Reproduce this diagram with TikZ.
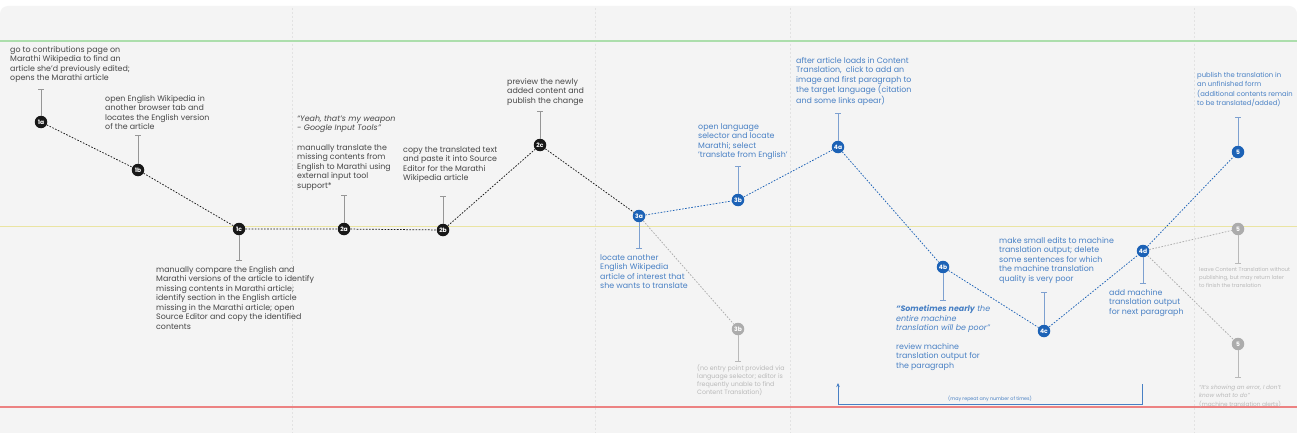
\documentclass[tikz,border=0pt]{standalone}
\usepackage{fontspec}
\setmainfont{Poppins}
\usetikzlibrary{arrows.meta,positioning}
\definecolor{panelbg}{RGB}{244,244,244}
\definecolor{inkblack}{RGB}{24,24,24}
\definecolor{txtdark}{RGB}{70,70,70}
\definecolor{stemgray}{RGB}{150,150,150}
\definecolor{ctblue}{RGB}{28,98,182}
\definecolor{txtblue}{RGB}{72,128,196}
\definecolor{stemblue}{RGB}{125,160,208}
\definecolor{fadegray}{RGB}{172,172,172}
\definecolor{txtgray}{RGB}{185,185,185}
\definecolor{lanegreen}{RGB}{172,222,172}
\definecolor{laneyellow}{RGB}{234,228,162}
\definecolor{lanered}{RGB}{236,130,130}
\definecolor{colsep}{RGB}{226,226,226}
\tikzset{
  % numbered step circles
  stepdot/.style={circle, fill=#1, inner sep=0pt, minimum size=12.5pt,
    text=white, font=\fontsize{6}{6}\selectfont\bfseries},
  % dotted journey paths
  trail/.style={draw=#1, line width=0.75pt, dash pattern=on 1.6pt off 1.5pt},
  % stems from step to its note
  stem/.style={draw=#1, line width=0.7pt, -{Bar[width=6pt,line width=0.7pt]}},
  % notes
  note/.style={anchor=north west, inner sep=0pt, align=left,
    font=\fontsize{7.9}{9.5}\selectfont, text=txtdark},
  noteblue/.style={note, text=txtblue},
  notegray/.style={note, text=txtgray, font=\fontsize{6.3}{8.3}\selectfont},
}
\begin{document}
\begin{tikzpicture}[x=1pt,y=-1pt]
  \clip (0,0) rectangle (1297,433);
  \fill[white] (0,0) rectangle (1297,433);
  \fill[panelbg, rounded corners=8pt] (0,6) rectangle (1297,445);

  % column separators
  \foreach \cx in {292,595,790,1194}
    \draw[colsep, line width=0.6pt, dash pattern=on 2pt off 2pt] (\cx,8) -- (\cx,433);

  % lanes
  \fill[lanegreen] (0,40.5) rectangle (1297,41.6);
  \fill[laneyellow] (0,225.5) rectangle (1297,226.6);
  \fill[lanered] (0,406.4) rectangle (1297,407.7);

  % steps
  \node[stepdot=inkblack] (n1a) at (41,122) {1a};
  \node[stepdot=inkblack] (n1b) at (138,170) {1b};
  \node[stepdot=inkblack] (n1c) at (239,229) {1c};
  \node[stepdot=inkblack] (n2a) at (344,229) {2a};
  \node[stepdot=inkblack] (n2b) at (443,230) {2b};
  \node[stepdot=inkblack] (n2c) at (540,145) {2c};
  \node[stepdot=ctblue] (n3a) at (639,216) {3a};
  \node[stepdot=ctblue] (n3b) at (738,200) {3b};
  \node[stepdot=fadegray] (n3bx) at (738,329) {3b};
  \node[stepdot=ctblue] (n4a) at (838,147) {4a};
  \node[stepdot=ctblue] (n4b) at (943,267) {4b};
  \node[stepdot=ctblue] (n4c) at (1044,331) {4c};
  \node[stepdot=ctblue] (n4d) at (1143,251) {4d};
  \node[stepdot=ctblue] (n5) at (1238,152) {5};
  \node[stepdot=fadegray] (n5x) at (1238,229) {5};
  \node[stepdot=fadegray] (n5y) at (1238,344) {5};

  % paths
  \draw[trail=inkblack] (n1a) -- (n1b) -- (n1c) -- (n2a) -- (n2b) -- (n2c) -- (n3a);
  \draw[trail=ctblue] (n3a) -- (n3b) -- (n4a) -- (n4b) -- (n4c) -- (n4d) -- (n5);
  \draw[trail=fadegray] (n3a) -- (n3bx);
  \draw[trail=fadegray] (n4d) -- (n5x);
  \draw[trail=fadegray] (n4d) -- (n5y);

  % stem ends
  \coordinate (s1a) at (41,89);
  \coordinate (s1b) at (138,135);
  \coordinate (s1c) at (239,261);
  \coordinate (s2a) at (344,195);
  \coordinate (s2b) at (443,196);
  \coordinate (s2c) at (540,111);
  \coordinate (s3a) at (639,249);
  \coordinate (s3b) at (738,166);
  \coordinate (s3bx) at (738,362);
  \coordinate (s4a) at (838,113);
  \coordinate (s4b) at (943,301);
  \coordinate (s4c) at (1044,292);
  \coordinate (s4d) at (1143,284);
  \coordinate (s5) at (1238,117);
  \coordinate (s5x) at (1238,264);
  \coordinate (s5y) at (1238,378);

  \foreach \s in {1a,1b,1c,2a,2b,2c}
    \draw[stem=stemgray] (n\s) -- (s\s);
  \foreach \s in {3a,3b,4a,4b,4c,4d,5}
    \draw[stem=stemblue] (n\s) -- (s\s);
  \foreach \s in {3bx,5x,5y}
    \draw[stem=txtgray] (n\s) -- (s\s);

  % notes
  \node[note] (t1a) at (10,46) {go to contributions page on\\Marathi Wikipedia to find an\\article she'd previously edited;\\opens the Marathi article};
  \node[note] (t1b) at (105,95) {open English Wikipedia in\\another browser tab and\\locates the English version\\of the article};
  \node[note] (t1c) at (156,266) {manually compare the English and\\Marathi versions of the article to identify\\missing contents in Marathi article;\\identify section in the English article\\missing in the Marathi article; open\\Source Editor and copy the identified\\contents};
  \node[note, font=\fontsize{7.9}{9.5}\selectfont\itshape] (q2a) at (297,115) {“Yeah, that's my weapon\\- Google Input Tools”};
  \node[note] (t2a) at (297,144) {manually translate the\\missing contents from\\English to Marathi using\\external input tool\\support*};
  \node[note] (t2b) at (403,146) {copy the translated text\\and paste it into Source\\Editor for the Marathi\\Wikipedia article};
  \node[note] (t2c) at (507,78) {preview the newly\\added content and\\publish the change};
  \node[noteblue] (t3a) at (600,254) {locate another\\English Wikipedia\\article of interest that\\she wants to translate};
  \node[noteblue] (t3b) at (698,123) {open language\\selector and locate\\Marathi; select\\'translate from English'};
  \node[notegray] (t3bx) at (697,364) {(no entry point provided via\\language selector; editor is\\frequently unable to find\\Content Translation)};
  \node[noteblue] (t4a) at (796,57) {after article loads in Content\\Translation,\ \ click to add an\\image and first paragraph to\\the target language (citation\\and some links apear)};
  \node[noteblue, font=\fontsize{7.9}{9.5}\selectfont\itshape] (q4b) at (896,305) {{\bfseries “Sometimes nearly} the\\entire machine\\translation will be poor”};
  \node[noteblue] (t4b) at (896,343) {review machine\\translation output for\\the paragraph};
  \node[noteblue] (t4c) at (999,237) {make small edits to machine\\translation output; delete\\some sentences for which\\the machine translation\\quality is very poor};
  \node[noteblue] (t4d) at (1109,289) {add machine\\translation output\\for next paragraph};
  \node[noteblue, font=\fontsize{6.8}{9.5}\selectfont] (t5) at (1197,72) {publish the translation in\\an unfinished form\\(additional contents remain\\to be translated/added)};
  \node[notegray, font=\fontsize{5.4}{8.3}\selectfont] (t5x) at (1199,267) {leave Content Translation without\\publishing, but may return later\\to finish the translation};
  \node[notegray, font=\fontsize{5.8}{8.3}\selectfont] (t5y) at (1199,385) {\itshape “It's showing an error, I don't\\\itshape know what to do”\\(machine translation alerts)};

  % repeat loop
  \coordinate (rlt) at (838,383);
  \coordinate (rlb) at (838,404);
  \coordinate (rrb) at (1142,404);
  \coordinate (rrt) at (1142,384);
  \draw[txtblue, line width=0.8pt, -{Stealth[length=4pt,width=3.5pt]}] (rrt) -- (rrb) -- (rlb) -- (rlt);
  \node[text=txtblue, font=\fontsize{4.8}{5}\selectfont, inner sep=0pt] (rep) at (990,399) {(may repeat any number of times)};
\end{tikzpicture}
\end{document}
